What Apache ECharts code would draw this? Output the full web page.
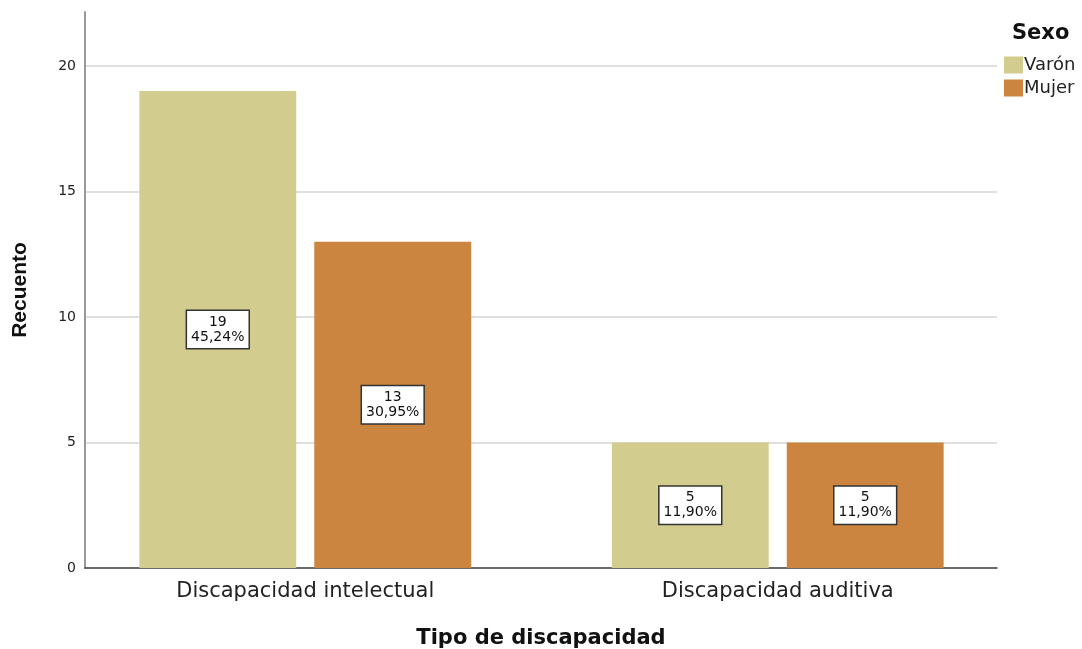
<!DOCTYPE html>
<html><head><meta charset="utf-8">
<script src="https://cdn.jsdelivr.net/npm/echarts@6/dist/echarts.min.js"></script>
<style>html,body{margin:0;padding:0;background:#fff}#c{width:1082px;height:649px}</style>
</head><body><div id="c"></div>
<script>
const categories = ['Discapacidad intelectual', 'Discapacidad auditiva'];
const seriesNames = ['Varón', 'Mujer'];
const varonCounts = [19, 5];
const mujerCounts = [13, 5];
const varonPct = ['45,24%', '11,90%'];
const mujerPct = ['30,95%', '11,90%'];
const yTicks = [0, 5, 10, 15, 20];
const colors = ['#D2CC8F', '#CC8540'];
const yMax = 22.15;

const font = "'DejaVu Sans', Verdana, sans-serif";
const labelStyle = (pcts) => ({
  show: true, position: 'inside',
  formatter: p => p.value + '\n' + pcts[p.dataIndex],
  backgroundColor: '#fff', borderColor: '#333', borderWidth: 1.5,
  padding: [4, 4, 3, 4], color: '#111', fontSize: 14, lineHeight: 15,
  fontFamily: font, align: 'center'
});

const chart = echarts.init(document.getElementById('c'), null, {renderer: 'canvas'});
chart.setOption({
  animation: false,
  backgroundColor: '#fff',
  title: { text: 'Sexo', left: 1007, top: 18, textStyle: {fontFamily: font, fontWeight: 'bold', fontSize: 21, color: '#111'} },
  legend: {
    orient: 'vertical', left: 999, top: 51, itemWidth: 19, itemHeight: 17, itemGap: 5,
    icon: 'rect', data: seriesNames,
    textStyle: {fontFamily: font, fontSize: 18, color: '#222', padding: [0,0,0,-4]}
  },
  grid: [
    {left: 85, right: 85, top: 12, bottom: 81, containLabel: false, outerBoundsMode: 'none'},
    {left: 69, width: 945, top: 12, bottom: 81, containLabel: false, outerBoundsMode: 'none'}
  ],
  xAxis: [
    {gridIndex: 0, type: 'category', data: categories, axisLabel: {show: false}, axisTick: {show: false},
     axisLine: {lineStyle: {color: '#444', width: 1.5}},
     name: 'Tipo de discapacidad', nameLocation: 'middle', nameGap: 60,
     nameTextStyle: {fontFamily: font, fontWeight: 'bold', fontSize: 21, color: '#111'}},
    {gridIndex: 1, type: 'category', data: categories, axisLine: {show: false}, axisTick: {show: false},
     axisLabel: {fontFamily: font, fontSize: 21, color: '#222', margin: 13}}
  ],
  yAxis: [
    {gridIndex: 0, type: 'value', min: 0, max: yMax, interval: 5,
     axisLine: {show: true, lineStyle: {color: '#999', width: 2}}, axisTick: {show: false},
     axisLabel: {fontFamily: font, fontSize: 14, color: '#222', margin: 9, formatter: v => (yTicks.includes(v) ? String(v) : '')},
     splitLine: {show: true, lineStyle: {color: ['#d4d4d4','#d4d4d4','#d4d4d4','#d4d4d4','#d4d4d4','rgba(0,0,0,0)'], width: 1.5}},
     name: 'Recuento', nameLocation: 'middle', nameGap: 54, nameRotate: 90,
     nameTextStyle: {fontFamily: "'Liberation Sans Narrow', 'Liberation Sans', Arial, sans-serif", fontWeight: 'bold', fontSize: 21, color: '#111'}},
    {gridIndex: 1, type: 'value', min: 0, max: yMax, interval: 5, show: false, splitLine: {show: false}}
  ],
  series: [
    {name: seriesNames[0], type: 'bar', xAxisIndex: 1, yAxisIndex: 1, data: varonCounts, barWidth: '33.2%', barGap: '11.5%',
     itemStyle: {color: colors[0]}, label: labelStyle(varonPct), z: 3},
    {name: seriesNames[1], type: 'bar', xAxisIndex: 1, yAxisIndex: 1, data: mujerCounts, barWidth: '33.2%', barGap: '11.5%',
     itemStyle: {color: colors[1]}, label: labelStyle(mujerPct), z: 3}
  ]
});
</script></body></html>
